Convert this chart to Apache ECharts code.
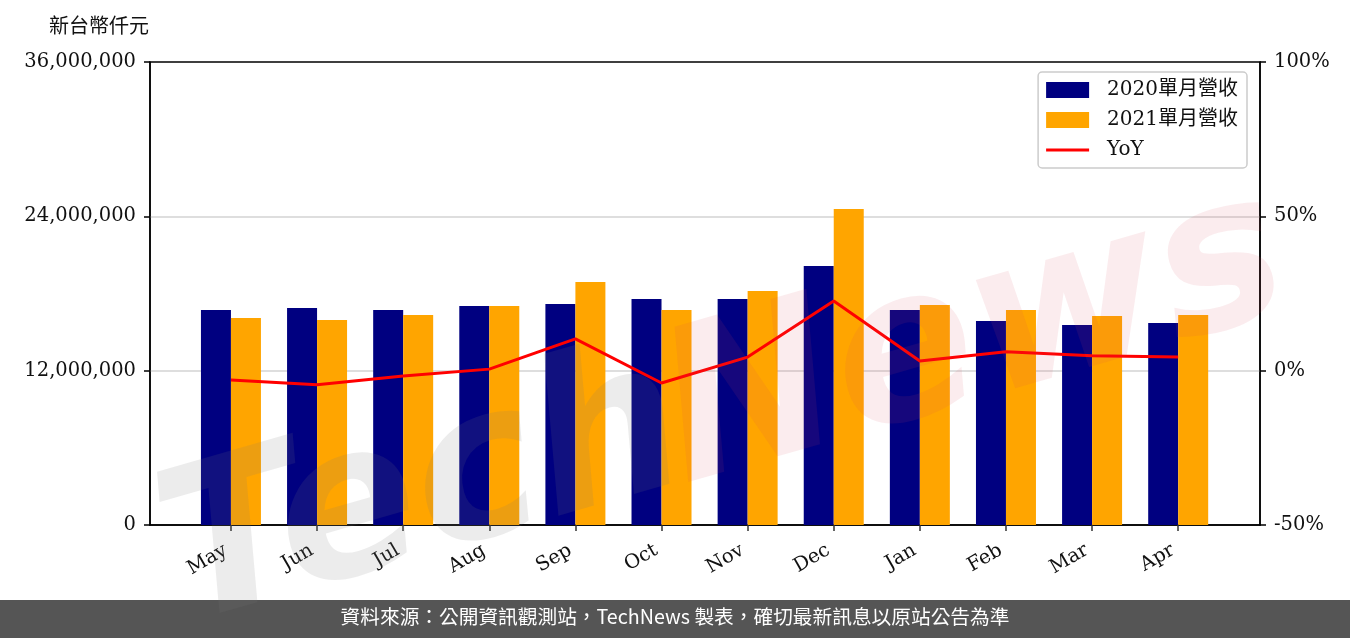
<!DOCTYPE html>
<html><head><meta charset="utf-8">
<script src="https://cdn.jsdelivr.net/npm/echarts@6/dist/echarts.min.js"></script>
<style>html,body{margin:0;padding:0;background:#fff}#c{width:1350px;height:638px}</style>
</head><body><div id="c"></div>
<script>
const months = ['May','Jun','Jul','Aug','Sep','Oct','Nov','Dec','Jan','Feb','Mar','Apr'];
const rev2020 = [16720000,16870000,16720000,17030000,17180000,17570000,17570000,20140000,16720000,15860000,15550000,15710000];
const rev2021 = [16100000,15940000,16330000,17030000,18890000,16720000,18190000,24570000,17110000,16720000,16250000,16330000];
const yoy = [-3.0,-4.6,-1.7,0.5,10.3,-4.0,4.4,22.6,3.1,6.1,4.8,4.4];
const leftTicks = [0,12000000,24000000,36000000];
const rightTicks = [-50,0,50,100];
const idx = months.map((m,i)=>i);

const serif = "'DejaVu Serif','Noto Sans CJK TC',serif";
const chart = echarts.init(document.getElementById('c'));
chart.setOption({
  animation:false,
  textStyle:{fontFamily:serif},
  grid:{left:150,right:90,top:62,bottom:113,show:true,borderColor:'#000',borderWidth:1.5,backgroundColor:'transparent'},
  title:{text:'新台幣仟元',left:44,top:13,textStyle:{fontFamily:serif,fontSize:20,fontWeight:'normal',color:'#111'}},
  legend:{
    orient:'vertical',right:103,top:72,
    itemWidth:43,itemHeight:16,itemGap:10,
    padding:[8,9,8,8],
    backgroundColor:'rgba(255,255,255,0.85)',borderColor:'#cccccc',borderWidth:1.5,borderRadius:4,
    textStyle:{fontFamily:serif,fontSize:20,color:'#111',padding:[0,0,0,13]},
    data:[{name:'2020單月營收',icon:'rect'},{name:'2021單月營收',icon:'rect'},
          {name:'YoY',icon:'path://M0,0M0,6.5H43V9.5H0ZM43,16'}]
  },
  xAxis:{
    type:'value',min:-0.94,max:11.95,
    axisLine:{show:true,onZero:false,lineStyle:{color:'#000',width:1.5}},
    axisTick:{show:true,customValues:idx,length:6,lineStyle:{color:'#333',width:1.5}},
    axisLabel:{customValues:idx,formatter:v=>months[Math.round(v)]||'',rotate:30,fontSize:19.5,color:'#111',margin:21,padding:[0,6,0,0],fontFamily:serif},
    splitLine:{show:false}
  },
  yAxis:[
    {type:'value',min:0,max:36000000,interval:12000000,
     axisLine:{show:true,onZero:false,lineStyle:{color:'#000',width:1.5}},
     axisTick:{show:true,length:6,lineStyle:{color:'#000',width:1.5}},
     axisLabel:{fontSize:19.5,color:'#111',margin:14,fontFamily:serif,formatter:v=>v.toLocaleString('en-US')},
     splitLine:{show:true,showMinLine:false,showMaxLine:false,lineStyle:{color:'#d3d3d3',width:1.5}}},
    {type:'value',min:-50,max:100,interval:50,position:'right',
     axisLine:{show:true,onZero:false,lineStyle:{color:'#000',width:1.5}},
     axisTick:{show:true,length:6,lineStyle:{color:'#000',width:1.5}},
     axisLabel:{fontSize:19.5,color:'#111',margin:14,fontFamily:serif,formatter:v=>v+'%'},
     splitLine:{show:false}}
  ],
  series:[
    {name:'2020單月營收',type:'bar',barWidth:30,barGap:'0%',itemStyle:{color:'#000080'},
     data:rev2020.map((v,i)=>[i,v])},
    {name:'2021單月營收',type:'bar',barWidth:30,barGap:'0%',itemStyle:{color:'#FFA500'},
     data:rev2021.map((v,i)=>[i,v])},
    {name:'YoY',type:'line',yAxisIndex:1,symbol:'none',showSymbol:false,
     lineStyle:{color:'#FF0000',width:3},itemStyle:{color:'#FF0000'},
     data:yoy.map((v,i)=>[i,v]),z:5}
  ],
  graphic:[
    {type:'rect',left:0,top:600,shape:{width:1350,height:38},style:{fill:'#555555'},z:1},
    {type:'text',left:'center',top:607,z:2,
     style:{text:'資料來源：公開資訊觀測站，TechNews 製表，確切最新訊息以原站公告為準',fill:'#ffffff',
       font:"19.7px 'Noto Sans CJK TC','Noto Sans',sans-serif"}},
    {type:'text',x:140,y:470,rotation:0.28,z:50,silent:true,
     style:{text:'Tech',fill:'rgba(120,120,120,0.14)',font:"italic bold 210px 'DejaVu Sans',sans-serif"}},
    {type:'text',x:640,y:330,rotation:0.28,z:50,silent:true,
     style:{text:'News',fill:'rgba(215,70,90,0.10)',font:"italic bold 210px 'DejaVu Sans',sans-serif"}}
  ]
});
</script></body></html>
